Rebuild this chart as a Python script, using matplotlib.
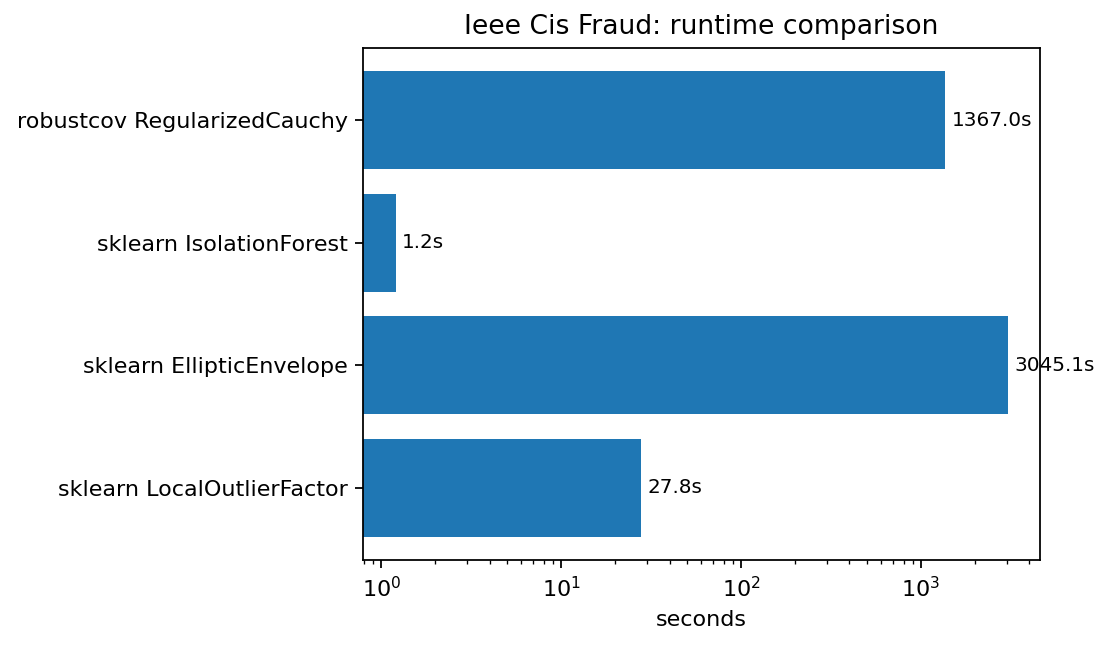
import matplotlib
matplotlib.use("Agg")
import matplotlib.pyplot as plt

methods = [
    "sklearn LocalOutlierFactor",
    "sklearn EllipticEnvelope",
    "sklearn IsolationForest",
    "robustcov RegularizedCauchy",
]
runtimes = [27.8, 3045.1, 1.2, 1367.0]

fig = plt.figure(figsize=(1111 / 160, 646 / 160), dpi=160)
ax = fig.add_axes([0.327, 0.133, 0.609, 0.793])
bars = ax.barh(methods, runtimes, color="#1f77b4")
ax.set_xscale("log")
ax.set_xlim(0.794, 4580)
ax.bar_label(bars, labels=[f"{v:.1f}s" for v in runtimes], padding=3, fontsize=9)
ax.set_xlabel("seconds")
ax.set_title("Ieee Cis Fraud: runtime comparison")

fig.savefig("out.png", dpi=160)
